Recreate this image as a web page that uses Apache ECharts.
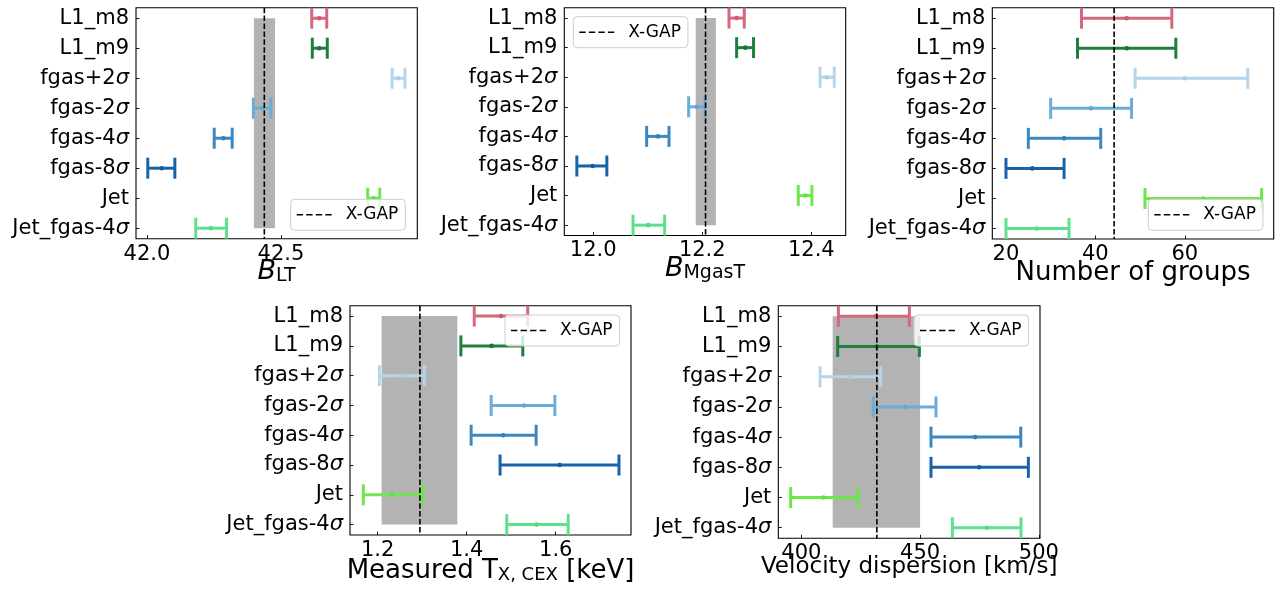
<!DOCTYPE html>
<html><head><meta charset="utf-8">
<script src="https://cdn.jsdelivr.net/npm/echarts@6/dist/echarts.min.js"></script>
<style>html,body{margin:0;padding:0;background:#fff}#c{width:1279px;height:592px}</style>
</head><body><div id="c"></div>
<script>
// ---- data ----
const categories = ['L1_m8', 'L1_m9', 'fgas+2σ', 'fgas-2σ', 'fgas-4σ', 'fgas-8σ', 'Jet', 'Jet_fgas-4σ'];
const lineColors = ['#d4687c', '#1f7f3c', '#b5d5ea', '#6badd7', '#3a88c2', '#1862a8', '#6ee64c', '#5ee08f'];
const dotColors  = ['#cc5a70', '#137532', '#a8cde7', '#62a6d3', '#3180bd', '#125ba2', '#62e23f', '#50dc85'];

// Panel 1: B_LT
const bltMid  = [42.643, 42.643, 42.938, 42.430, 42.285, 42.055, 42.846, 42.238];
const bltLow  = [42.615, 42.617, 42.915, 42.397, 42.251, 42.003, 42.824, 42.182];
const bltHigh = [42.671, 42.673, 42.963, 42.462, 42.318, 42.104, 42.869, 42.297];
const bltXgap = 42.438;
const bltBand = [42.399, 42.478];
const bltTicks = [42.0, 42.5];

// Panel 2: B_MgasT
const bmtMid  = [12.263, 12.279, 12.428, 12.190, 12.119, 11.999, 12.389, 12.101];
const bmtLow  = [12.249, 12.263, 12.416, 12.175, 12.098, 11.970, 12.376, 12.073];
const bmtHigh = [12.277, 12.294, 12.442, 12.205, 12.139, 12.025, 12.401, 12.131];
const bmtXgap = 12.206;
const bmtBand = [12.188, 12.225];
const bmtTicks = [12.0, 12.2, 12.4];

// Panel 3: Number of groups
const ngMid  = [47.0, 47.0, 60.0, 39.0, 33.0, 25.9, 64.1, 26.9];
const ngLow  = [36.9, 36.0, 48.9, 30.0, 25.0, 20.0, 51.1, 20.0];
const ngHigh = [57.1, 58.0, 74.1, 48.1, 41.2, 33.0, 77.2, 34.1];
const ngXgap = 44.2;
const ngTicks = [20, 40, 60];

// Panel 4: Measured T_X,CEX [keV]
const txMid  = [1.477, 1.456, 1.254, 1.529, 1.482, 1.609, 1.233, 1.557];
const txLow  = [1.417, 1.387, 1.204, 1.455, 1.410, 1.475, 1.168, 1.490];
const txHigh = [1.537, 1.526, 1.305, 1.598, 1.556, 1.742, 1.301, 1.628];
const txXgap = 1.295;
const txBand = [1.209, 1.379];
const txTicks = [1.2, 1.4, 1.6];

// Panel 5: Velocity dispersion [km/s]
const vdMid  = [431.3, 431.8, 420.5, 443.7, 473.2, 474.9, 409.3, 478.1];
const vdLow  = [415.6, 415.3, 407.9, 430.3, 454.6, 454.6, 395.5, 463.6];
const vdHigh = [445.5, 449.7, 433.4, 456.7, 492.4, 495.6, 423.8, 492.5];
const vdXgap = 431.8;
const vdBand = [413.2, 450.0];
const vdTicks = [400, 450, 500];

// ---- layout ----
const FONT = 'DejaVu Sans';
const Y_MIN = -0.35, Y_MAX = categories.length - 1 + 0.35;
const DASH_ICON = 'path://M0,0h6.4v1.6h-6.4z M9.6,0h6.4v1.6h-6.4z M19.2,0h6.4v1.6h-6.4z M28.8,0h6.4v1.6h-6.4z';

const panels = [
  { grid: {left: 136, top: 7.7, width: 281.3, height: 231}, xMin: 41.959, xMax: 43.009, ticks: bltTicks, dec: 1,
    mid: bltMid, low: bltLow, high: bltHigh, xgap: bltXgap, band: bltBand,
    name: '{i|B}{sub|LT}', nameGap: 20, legend: {left: 290.7, top: 199.3} },
  { grid: {left: 564.3, top: 7.7, width: 281.4, height: 227.8}, xMin: 11.947, xMax: 12.463, ticks: bmtTicks, dec: 1,
    mid: bmtMid, low: bmtLow, high: bmtHigh, xgap: bmtXgap, band: bmtBand,
    name: '{i|B}{sub|MgasT}', nameGap: 20, legend: {left: 573.3, top: 16.7} },
  { grid: {left: 992.3, top: 7.7, width: 281.4, height: 231.3}, xMin: 16.94, xMax: 79.9, ticks: ngTicks, dec: 0,
    mid: ngMid, low: ngLow, high: ngHigh, xgap: ngXgap, band: null,
    name: '{n|Number of groups}', nameGap: 21, legend: {left: 1148.3, top: 199.3} },
  { grid: {left: 350, top: 305.7, width: 281, height: 229.3}, xMin: 1.138, xMax: 1.769, ticks: txTicks, dec: 1,
    mid: txMid, low: txLow, high: txHigh, xgap: txXgap, band: txBand,
    name: '{n|Measured T}{sub2|X, CEX}{n| [keV]}', nameGap: 23.5, legend: {left: 505, top: 315} },
  { grid: {left: 778.3, top: 305.7, width: 261.7, height: 232.6}, xMin: 390.3, xMax: 500.5, ticks: vdTicks, dec: 0,
    mid: vdMid, low: vdLow, high: vdHigh, xgap: vdXgap, band: vdBand,
    name: '{m|Velocity dispersion [km/s]}', nameGap: 17.5, legend: {left: 914, top: 315} }
];

const nameRich = {
  i:   {fontFamily: FONT, fontSize: 27, fontStyle: 'italic', lineHeight: 27, verticalAlign: 'bottom', color: '#000'},
  sub: {fontFamily: FONT, fontSize: 19, lineHeight: 16, verticalAlign: 'bottom', color: '#000'},
  sub2:{fontFamily: FONT, fontSize: 18, lineHeight: 13, verticalAlign: 'bottom', color: '#000'},
  n:   {fontFamily: FONT, fontSize: 26, lineHeight: 26, verticalAlign: 'bottom', color: '#000'},
  m:   {fontFamily: FONT, fontSize: 23, lineHeight: 23, verticalAlign: 'bottom', color: '#000'}
};

function catLabel(v) {
  const s = categories[Math.round(v)];
  if (s == null) return '';
  return s.replace('σ', '{s|σ}');
}

function renderErr(params, api) {
  const i = api.value(1);
  const pL = api.coord([api.value(0), i]);
  const pH = api.coord([api.value(2), i]);
  const pM = api.coord([api.value(3), i]);
  const col = lineColors[i], dc = dotColors[i];
  const cap = 10.5;
  const ls = {stroke: col, lineWidth: 3};
  return {type: 'group', children: [
    {type: 'line', shape: {x1: pL[0], y1: pL[1], x2: pH[0], y2: pH[1]}, style: ls},
    {type: 'line', shape: {x1: pL[0], y1: pL[1] - cap, x2: pL[0], y2: pL[1] + cap}, style: ls},
    {type: 'line', shape: {x1: pH[0], y1: pH[1] - cap, x2: pH[0], y2: pH[1] + cap}, style: ls},
    {type: 'circle', shape: {cx: pM[0], cy: pM[1], r: 2.3}, style: {fill: dc}}
  ]};
}

function renderBand(params, api) {
  const a = api.coord([api.value(0), api.value(2)]);
  const b = api.coord([api.value(1), api.value(3)]);
  return {type: 'rect', shape: {x: Math.min(a[0], b[0]), y: Math.min(a[1], b[1]),
    width: Math.abs(b[0] - a[0]), height: Math.abs(b[1] - a[1])},
    style: {fill: 'rgba(128,128,128,0.6)'}};
}

const option = {
  animation: false,
  backgroundColor: '#fff',
  grid: [], xAxis: [], yAxis: [], series: [], legend: []
};

panels.forEach((p, k) => {
  option.grid.push(Object.assign({show: true, borderColor: '#000', borderWidth: 1.1, backgroundColor: 'transparent'}, p.grid));
  option.xAxis.push({
    type: 'value', gridIndex: k, min: p.xMin, max: p.xMax, position: 'bottom',
    axisLine: {show: false, onZero: false}, splitLine: {show: false},
    axisTick: {show: true, inside: true, length: 3.5, customValues: p.ticks, lineStyle: {color: '#000', width: 0.9}},
    axisLabel: {customValues: p.ticks, margin: 5, fontFamily: FONT, fontSize: 21, color: '#000',
      formatter: (v) => Number(v).toFixed(p.dec)},
    name: p.name, nameLocation: 'middle', nameGap: p.nameGap, nameMoveOverlap: false,
    nameTextStyle: {fontFamily: FONT, fontSize: 26, color: '#000', rich: nameRich}
  });
  option.yAxis.push({
    type: 'value', gridIndex: k, min: Y_MIN, max: Y_MAX, inverse: true, position: 'left',
    axisLine: {show: false, onZero: false}, splitLine: {show: false},
    axisTick: {show: true, inside: true, length: 3.5, customValues: categories.map((c, i) => i), lineStyle: {color: '#000', width: 0.9}},
    axisLabel: {customValues: categories.map((c, i) => i), margin: 7, fontFamily: FONT, fontSize: 21, color: '#000',
      formatter: catLabel,
      rich: {s: {fontFamily: FONT, fontSize: 21, fontStyle: 'italic', color: '#000'}}}
  });
  if (p.band) {
    option.series.push({
      type: 'custom', xAxisIndex: k, yAxisIndex: k, z: 1, silent: true,
      renderItem: renderBand,
      encode: {x: [0, 1], y: [2, 3]},
      data: [[p.band[0], p.band[1], 0, categories.length - 1]]
    });
  }
  option.series.push({
    type: 'custom', xAxisIndex: k, yAxisIndex: k, z: 3, silent: true,
    renderItem: renderErr,
    encode: {x: [0, 2, 3], y: 1},
    data: categories.map((c, i) => [p.low[i], i, p.high[i], p.mid[i]])
  });
  option.series.push({
    type: 'line', name: 'X-GAP', xAxisIndex: k, yAxisIndex: k, z: 4, silent: true,
    symbol: 'none', itemStyle: {color: '#000'}, lineStyle: {color: '#000', width: 1.6, type: [5.5, 2.4]},
    data: [[p.xgap, Y_MIN], [p.xgap, Y_MAX]]
  });
  option.legend.push({
    data: [{name: 'X-GAP', icon: DASH_ICON}], left: p.legend.left, top: p.legend.top, orient: 'vertical',
    selectedMode: false, itemWidth: 35, itemHeight: 14, symbolKeepAspect: true,
    itemStyle: {color: '#000', borderWidth: 0},
    padding: [7, 7, 7, 6],
    backgroundColor: 'rgba(255,255,255,0.8)', borderColor: '#cccccc', borderWidth: 1, borderRadius: 4,
    textStyle: {fontFamily: FONT, fontSize: 17, color: '#000', padding: [0, 0, 0, 9]},
    z: 10
  });
});

const chart = echarts.init(document.getElementById('c'), null, {renderer: 'canvas'});
chart.setOption(option);
</script>
</body></html>
